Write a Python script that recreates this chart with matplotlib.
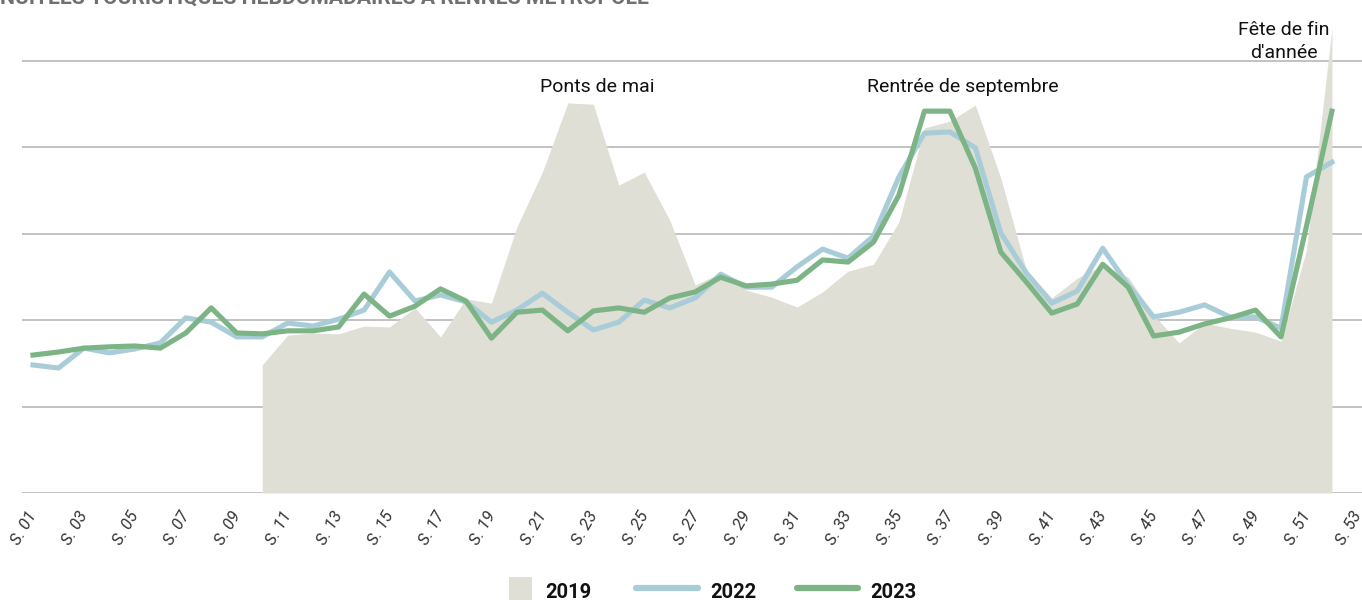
import matplotlib
matplotlib.use("Agg")
import matplotlib.pyplot as plt
import matplotlib.transforms as mtransforms
from matplotlib.patches import Rectangle
from matplotlib.lines import Line2D
import numpy as np

plt.rcParams['font.family'] = ['Roboto', 'DejaVu Sans']

title = "NUITÉES TOURISTIQUES HEBDOMADAIRES À RENNES MÉTROPOLE"

weeks = list(range(1, 53))
weeks_2019 = list(range(10, 53))

v2019 = [29.6, 36.5, 37.0, 36.8, 38.6, 38.4, 42.8, 36.1, 44.9, 43.9,
         61.5, 74.2, 90.2, 89.9, 71.2, 74.2, 63.1, 48.1, 50.9, 46.9,
         45.3, 43.0, 46.5, 51.3, 52.9, 62.7, 84.4, 86.0, 89.7, 72.8,
         51.6, 45.1, 49.7, 52.7, 49.9, 41.2, 34.7, 39.3, 38.1, 37.2,
         35.1, 56.2, 107.5]

v2022 = [29.6, 28.9, 33.5, 32.4, 33.3, 34.7, 40.5, 39.5, 36.1, 36.1,
         39.3, 38.6, 40.2, 42.3, 51.1, 44.4, 45.8, 44.2, 39.5, 42.3,
         46.2, 41.8, 37.7, 39.5, 44.6, 42.8, 45.1, 50.6, 47.6, 47.6,
         52.3, 56.4, 54.3, 59.4, 73.1, 83.2, 83.5, 79.8, 60.1, 50.9,
         43.9, 46.7, 56.6, 48.1, 40.7, 41.8, 43.5, 40.7, 40.7, 38.1,
         73.1, 76.5]

v2023 = [31.9, 32.6, 33.5, 33.8, 34.0, 33.5, 37.0, 42.8, 37.0, 36.8,
         37.5, 37.5, 38.4, 46.0, 40.9, 43.2, 47.2, 44.4, 35.8, 41.8,
         42.3, 37.5, 42.1, 42.8, 41.8, 45.1, 46.5, 49.9, 47.9, 48.3,
         49.2, 53.9, 53.4, 58.0, 68.9, 88.3, 88.3, 75.1, 55.7, 48.8,
         41.6, 43.7, 52.9, 47.6, 36.3, 37.2, 39.1, 40.5, 42.3, 36.1,
         61.7, 88.3]

tick_weeks = list(range(1, 54, 2))
tick_labels = [f"S. {w:02d}" for w in tick_weeks]

annotations = [("Ponts de mai", 23.14, 92.7),
               ("Rentrée de septembre", 37.5, 92.7),
               ("Fête de fin\nd'année", 50.1, 100.6)]

series_labels = ["2019", "2022", "2023"]

c_area = "#dfdfd6"
c_2022 = "#a9cdd8"
c_2023 = "#7db485"

W, H = 1362, 600
fig = plt.figure(figsize=(W / 100, H / 100), dpi=100)
ax = fig.add_axes([22 / W, 107 / H, 1 - 22 / W, 493 / H])

ax.fill_between(weeks_2019, v2019, 0, color=c_area, linewidth=0, zorder=1)
ax.plot(weeks, v2022, color=c_2022, lw=3.7, zorder=3)
ax.plot(weeks, v2023, color=c_2023, lw=3.7, zorder=4)

ax.set_xlim(0.57, 53.18)
ax.set_ylim(0, 114)
ax.set_yticks([0, 20, 40, 60, 80, 100])
ax.yaxis.grid(True, color="#b8b8b8", lw=1.2, zorder=0)
ax.set_axisbelow(True)
ax.tick_params(axis='y', left=False, labelleft=False)
for s in ax.spines.values():
    s.set_visible(False)

ax.set_xticks(tick_weeks)
ax.set_xticklabels(tick_labels, rotation=60, ha='right', va='top',
                   rotation_mode='anchor', fontsize=12, style='italic',
                   color='#333333')
ax.tick_params(axis='x', bottom=False, pad=8)
offset = mtransforms.ScaledTranslation(-6 / 100, 0, fig.dpi_scale_trans)
for lab in ax.get_xticklabels():
    lab.set_transform(lab.get_transform() + offset)

for txt, x, y in annotations:
    ax.text(x, y, txt, ha='center', va='baseline', fontsize=14,
            color='#111111', linespacing=1.38)

fig.text(0.0, 1 - 4 / H, title, ha='left', va='baseline', fontsize=15.2,
         fontweight='bold', color='#707070')

# legend drawn in figure coordinates
fig.patches.append(Rectangle((509 / W, 0), 23 / W, 23 / H, transform=fig.transFigure,
                             facecolor=c_area, edgecolor='none'))
fig.lines.append(Line2D([636 / W, 698 / W], [1 - 588 / H] * 2, transform=fig.transFigure,
                        color=c_2022, lw=4.5, solid_capstyle='round'))
fig.lines.append(Line2D([797 / W, 858 / W], [1 - 588 / H] * 2, transform=fig.transFigure,
                        color=c_2023, lw=4.5, solid_capstyle='round'))
for lbl, xp in zip(series_labels, [545, 710, 870]):
    fig.text(xp / W, 1 - 598 / H, lbl, ha='left', va='baseline', fontsize=14.5,
             fontweight='bold', color='#111111')

fig.savefig("out.png", dpi=100)
